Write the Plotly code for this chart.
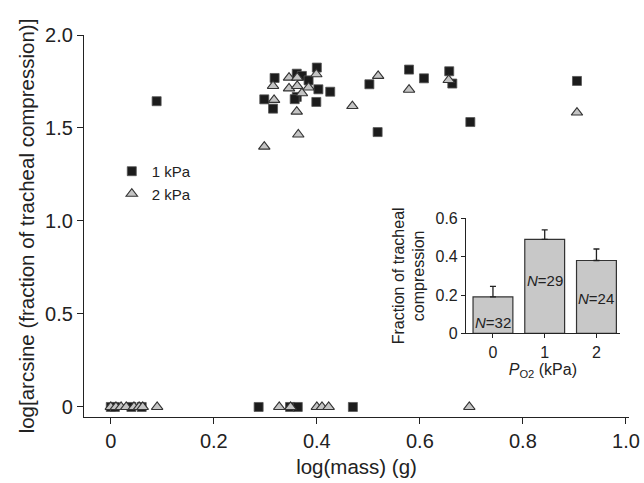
import plotly.graph_objects as go

# ---- main scatter data: log(mass) vs log[arcsine(fraction)] ----
kpa1_x = [0.089, 0.318, 0.298, 0.315, 0.361, 0.371, 0.384, 0.400, 0.361, 0.357,
          0.403, 0.426, 0.399, 0.502, 0.518, 0.579, 0.608, 0.657, 0.663, 0.698,
          0.905,
          0.000, 0.008, 0.040, 0.060, 0.287, 0.348, 0.363, 0.470]
kpa1_y = [1.644, 1.769, 1.654, 1.604, 1.792, 1.780, 1.756, 1.825, 1.667, 1.655,
          1.708, 1.695, 1.640, 1.735, 1.478, 1.814, 1.767, 1.805, 1.739, 1.532,
          1.753,
          0, 0, 0, 0, 0, 0, 0, 0]

kpa2_x = [0.315, 0.317, 0.298, 0.346, 0.362, 0.346, 0.362, 0.384, 0.399, 0.371,
          0.361, 0.364, 0.519, 0.469, 0.656, 0.579, 0.905,
          0.000, 0.010, 0.020, 0.030, 0.045, 0.055, 0.062, 0.090, 0.327, 0.349,
          0.400, 0.410, 0.423, 0.696]
kpa2_y = [1.726, 1.651, 1.400, 1.771, 1.771, 1.713, 1.726, 1.718, 1.789, 1.687,
          1.588, 1.465, 1.780, 1.618, 1.758, 1.706, 1.583,
          0, 0, 0, 0, 0, 0, 0, 0, 0, 0, 0, 0, 0, 0]

x_tickvals = [0, 0.2, 0.4, 0.6, 0.8, 1.0]
x_ticktext = ["0", "0.2", "0.4", "0.6", "0.8", "1.0"]
y_tickvals = [0, 0.5, 1.0, 1.5, 2.0]
y_ticktext = ["0", "0.5", "1.0", "1.5", "2.0"]

# ---- inset bar data ----
po2 = [0, 1, 2]
frac_mean = [0.19, 0.49, 0.38]
frac_err = [0.055, 0.05, 0.06]
n_labels = ["<i>N</i>=32", "<i>N</i>=29", "<i>N</i>=24"]
n_label_y = [0.054, 0.278, 0.184]
inset_yticks = [0, 0.2, 0.4, 0.6]
inset_yticktext = ["0", "0.2", "0.4", "0.6"]

FONT = "Liberation Sans, Arial, sans-serif"
DARK = "#222222"

fig = go.Figure()

fig.add_trace(go.Scatter(
    x=kpa1_x, y=kpa1_y, mode="markers", name="1 kPa",
    marker=dict(symbol="square", size=9, color="#1c1c1c",
                line=dict(color="#555555", width=0.8)),
    xaxis="x", yaxis="y"))
fig.add_trace(go.Scatter(
    x=kpa2_x, y=kpa2_y, mode="markers", name="2 kPa",
    marker=dict(symbol="triangle-up", size=10, color="#c4c4c4",
                line=dict(color="#333333", width=1.1)),
    xaxis="x", yaxis="y"))

fig.add_trace(go.Bar(
    x=po2, y=frac_mean, width=0.77, showlegend=False,
    marker=dict(color="#c8c8c8", line=dict(color="#333333", width=1.2)),
    error_y=dict(type="data", array=frac_err, arrayminus=[0, 0, 0],
                 symmetric=False, color=DARK, thickness=1.3, width=3),
    xaxis="x2", yaxis="y2"))

for xv, yv, t in zip(po2, n_label_y, n_labels):
    fig.add_annotation(x=xv, y=yv, xref="x2", yref="y2", text=t,
                       showarrow=False, font=dict(size=15, color=DARK, family=FONT))

axis_common = dict(showline=True, linecolor=DARK, linewidth=1.2, ticks="outside",
                   ticklen=6, tickwidth=1.2, tickcolor=DARK, showgrid=False,
                   zeroline=False, mirror=False, automargin=False)

fig.update_layout(
    width=644, height=483,
    margin=dict(l=84, r=15, t=35, b=66),
    paper_bgcolor="white", plot_bgcolor="white",
    font=dict(family=FONT, color=DARK, size=20),
    xaxis=dict(range=[-0.052, 1.006], tickvals=x_tickvals, ticktext=x_ticktext,
               domain=[0, 1], anchor="y",
               title=dict(text="log(mass) (g)", font=dict(size=20.5), standoff=8),
               tickfont=dict(size=20), **axis_common),
    yaxis=dict(range=[-0.054, 2.0], tickvals=y_tickvals, ticktext=y_ticktext,
               domain=[0, 1], anchor="x",
               title=dict(text="log[arcsine (fraction of tracheal compression)]",
                          font=dict(size=20.5), standoff=4),
               tickfont=dict(size=20), **axis_common),
    xaxis2=dict(range=[-0.52, 2.45], tickvals=po2, ticktext=["0", "1", "2"],
                domain=[0.701, 0.983], anchor="y2",
                title=dict(text="<i>P</i><sub>O2</sub> (kPa)", font=dict(size=16),
                           standoff=0),
                tickfont=dict(size=16), **{**axis_common, "ticklen": 4}),
    yaxis2=dict(range=[0, 0.6], tickvals=inset_yticks, ticktext=inset_yticktext,
                domain=[0.219, 0.520], anchor="x2",
                title=dict(text="Fraction of tracheal<br>compression",
                           font=dict(size=16), standoff=6),
                tickfont=dict(size=16), **{**axis_common, "ticklen": 4}),
    legend=dict(x=0.051, y=0.686, xanchor="left", yanchor="top",
                bgcolor="rgba(0,0,0,0)", font=dict(size=15),
                itemwidth=30, tracegroupgap=0),
    showlegend=True,
)

fig.write_html("out.html", config={"displayModeBar": False},
               post_script="document.body.style.margin='0';document.body.style.overflow='hidden';")
